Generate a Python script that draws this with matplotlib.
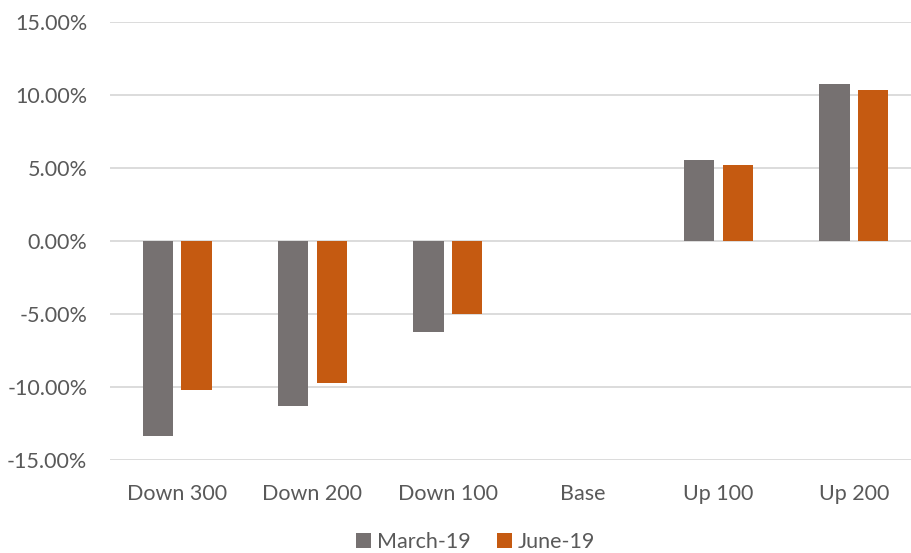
import matplotlib
matplotlib.use("Agg")
import matplotlib.pyplot as plt
import numpy as np
from matplotlib.ticker import FuncFormatter

categories = ["Down 300", "Down 200", "Down 100", "Base", "Up 100", "Up 200"]
march_19 = [-13.35, -11.3, -6.2, 0.0, 5.55, 10.73]
june_19 = [-10.2, -9.73, -5.0, 0.0, 5.18, 10.34]
series_names = ["March-19", "June-19"]
yticks = [-15, -10, -5, 0, 5, 10, 15]

plt.rcParams['font.family'] = ['Lato', 'DejaVu Sans']
text_color = "#595959"
fs = 15.5

fig = plt.figure(figsize=(9.11, 5.53), dpi=100)
W, H = 911, 553
left_px, right_px, top_px, bot_px = 109.5, 921.5, 22, 460
ax = fig.add_axes([left_px / W, 1 - bot_px / H, (right_px - left_px) / W, (bot_px - top_px) / H])

x = np.arange(len(categories))
bw = 0.225
off = 0.143
ax.bar(x - off, march_19, bw, color="#767171", linewidth=0, label=series_names[0], zorder=3)
ax.bar(x + off, june_19, bw, color="#C55A11", linewidth=0, label=series_names[1], zorder=3)

ax.set_xlim(-0.5, len(categories) - 0.5)
ax.set_ylim(-15, 15)
ax.set_yticks(yticks)
ax.yaxis.set_major_formatter(FuncFormatter(lambda v, p: f"{v:.2f}%"))
ax.grid(axis='y', color="#D9D9D9", linewidth=1.3, zorder=0)
ax.set_xticks(x)
ax.set_xticklabels(categories)
for s in ax.spines.values():
    s.set_visible(False)
ax.tick_params(axis='both', length=0, labelsize=fs, colors=text_color)
ax.tick_params(axis='y', pad=16)
ax.tick_params(axis='x', pad=17)

leg = fig.legend(loc="lower center", bbox_to_anchor=(0.522, -0.033), ncol=2, frameon=False,
                 fontsize=fs, handlelength=0.7, handleheight=0.7, handletextpad=0.3, columnspacing=1.2)
for t in leg.get_texts():
    t.set_color(text_color)

fig.savefig("out.png", dpi=100)
